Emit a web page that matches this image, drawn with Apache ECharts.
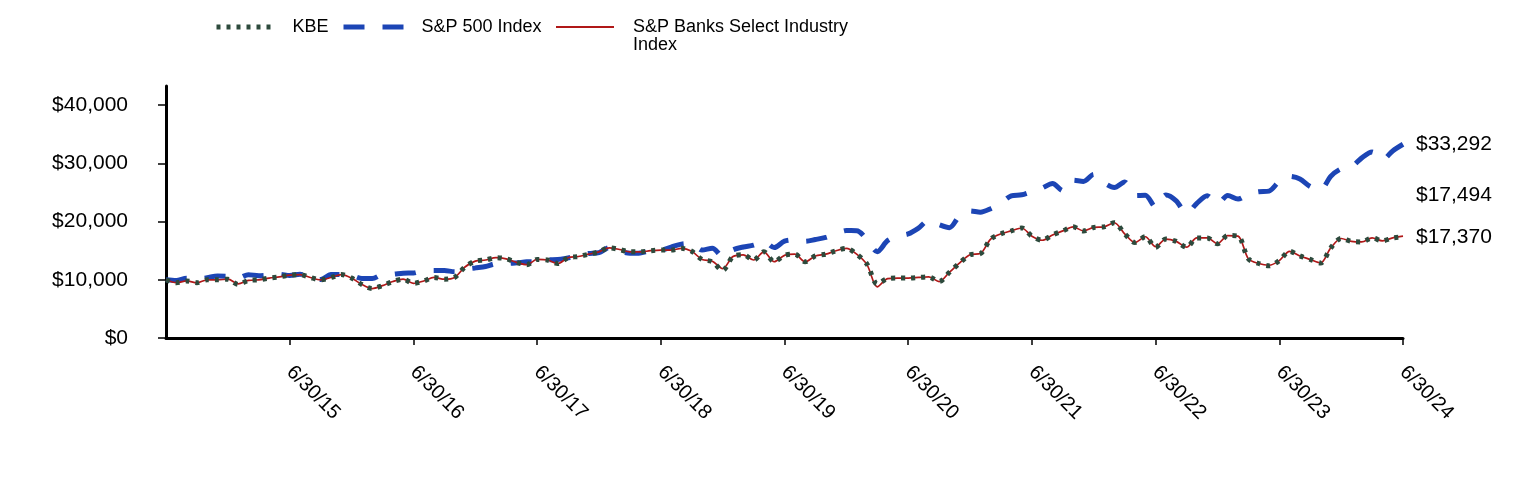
<!DOCTYPE html>
<html>
<head>
<meta charset="utf-8">
<script src="https://cdn.jsdelivr.net/npm/echarts@6/dist/echarts.min.js"></script>
<style>html,body{margin:0;padding:0;background:#fff}#c{width:1524px;height:480px}</style>
</head>
<body>
<div id="c"></div>
<script>
const seriesNames = ['KBE', 'S&P 500 Index', 'S&P Banks Select Industry Index'];
const tickLabels = ['6/30/15','6/30/16','6/30/17','6/30/18','6/30/19','6/30/20','6/30/21','6/30/22','6/30/23','6/30/24'];
const yTicks = [0, 10000, 20000, 30000, 40000];

// monthly values, 6/30/14 .. 6/30/24
const kbe = [10000, 9500, 9800, 9500, 10000, 10000, 10100, 9200, 9900, 10000,
  10300, 10500, 10800, 10900, 10400, 10000, 10400, 10900, 10300, 9200,
  8500, 9000, 9700, 10100, 9400, 9800, 10400, 10100, 10400, 12200,
  13200, 13400, 13800, 13600, 13000, 12600, 13500, 13400, 12800, 13800,
  14000, 14400, 14800, 15500, 15200, 14800, 14800, 15000, 15100, 15100,
  15400, 14900, 13500, 13100, 11600, 14000, 14300, 13400, 14800, 13100,
  14200, 14400, 13100, 14100, 14400, 15000, 15400, 14400, 12700, 9300,
  10200, 10300, 10300, 10400, 10500, 9700, 11300, 12900, 14300, 14500,
  17000, 17900, 18400, 18900, 17500, 16800, 17700, 18400, 19100, 18400,
  19000, 19100, 19800, 17900, 16400, 17400, 15600, 17000, 16600, 15600,
  17200, 17200, 16200, 17600, 17500, 13600, 12800, 12400, 13300, 14900,
  14100, 13500, 12900, 15500, 17100, 16600, 16500, 17200, 16700, 17200,
  17370];
const sp500 = [10000, 9862, 10257, 10113, 10360, 10639, 10612,
  10293, 10885, 10713, 10816, 10955, 10742, 10967, 10306, 10051, 10899, 10931, 10759,
  10225, 10211, 10904, 10946, 11143, 11172, 11584, 11600, 11602, 11391, 11813, 12046,
  12275, 12762, 12777, 12908, 13090, 13172, 13443, 13484, 13762, 14083, 14515, 14676,
  15517, 14945, 14565, 14621, 14973, 15065, 15625, 16134, 16226, 15117, 15425, 14033,
  15157, 15644, 15948, 16594, 15539, 16634, 16873, 16606, 16917, 17284, 17911, 18451,
  18444, 16925, 14835, 16736, 17533, 17882, 18890, 20248, 19478, 18960, 21036, 21845,
  21625, 22221, 23194, 24432, 24603, 25177, 25776, 26559, 25324, 27099, 26911, 28117,
  26662, 25863, 26823, 24484, 24529, 22504, 24579, 23577, 21405, 23138, 24431, 23022,
  24468, 23871, 24747, 25134, 25243, 26910, 27775, 27333, 26030, 25482, 27808, 29072,
  29400, 30950, 31950, 30640, 32150, 33292];
const banksIndex = [10000, 9500, 9800, 9500, 10000, 10000, 10100, 9300, 9900, 10000,
  10300, 10500, 10800, 10900, 10400, 10000, 10400, 10900, 10300, 9200,
  8500, 9000, 9700, 10100, 9400, 9800, 10400, 10100, 10400, 12200,
  13200, 13400, 13800, 13600, 13000, 12600, 13500, 13400, 12800, 13800,
  14000, 14400, 14800, 15500, 15200, 14800, 14800, 15000, 15100, 15100,
  15400, 14900, 13500, 13200, 11900, 14000, 14300, 13400, 14800, 13100,
  14200, 14400, 13100, 14100, 14400, 15000, 15400, 14400, 12600, 8800,
  10200, 10300, 10300, 10400, 10500, 9700, 11300, 12900, 14300, 14500,
  17000, 17900, 18400, 18900, 17500, 16800, 17700, 18400, 19100, 18400,
  19000, 19100, 19800, 17900, 16400, 17400, 15700, 17000, 16600, 15600,
  17200, 17200, 16200, 17600, 17500, 13600, 12800, 12500, 13300, 14900,
  14100, 13500, 12900, 15500, 17100, 16600, 16500, 17200, 16700, 17200,
  17494];

// month-end category labels
const categories = [];
for (let k = 0; k < kbe.length; k++) {
  const m = (5 + k) % 12;
  const y = 2014 + Math.floor((5 + k) / 12);
  const d = new Date(Date.UTC(y, m + 1, 0)).getUTCDate();
  categories.push((m + 1) + '/' + d + '/' + String(y).slice(2));
}

const FONT = 'Arial, "Liberation Sans", sans-serif';
const COL_KBE = '#2d4a3c', COL_SP = '#1c45b5', COL_IDX = '#b01818';
const STYLE_KBE = {color: COL_KBE, width: 5, type: [4, 6]};
const STYLE_SP = {color: COL_SP, width: 5, type: [21, 18]};
const STYLE_IDX = {color: COL_IDX, width: 1.7};
const money = v => '$' + Math.round(v).toLocaleString('en-US');
const showTick = (i, v) => tickLabels.includes(v);

const chart = echarts.init(document.getElementById('c'), null, {renderer: 'canvas'});
const legendBase = {
  top: 18, padding: 0, itemHeight: 14, selectedMode: false,
  itemStyle: {opacity: 0}
};
chart.setOption({
  animation: false,
  textStyle: {fontFamily: FONT},
  grid: {left: 166, right: 121, top: 86, bottom: 142},
  legend: [
    Object.assign({}, legendBase, {data: [seriesNames[0]], left: 214, itemWidth: 54,
      lineStyle: STYLE_KBE,
      textStyle: {fontSize: 18, color: '#000', fontFamily: FONT, padding: [0, 0, 0, 17]}}),
    Object.assign({}, legendBase, {data: [seriesNames[1]], left: 341, itemWidth: 60,
      lineStyle: STYLE_SP,
      textStyle: {fontSize: 18, color: '#000', fontFamily: FONT, padding: [0, 0, 0, 13]}}),
    Object.assign({}, legendBase, {data: [seriesNames[2]], left: 555, top: 18, itemWidth: 58,
      lineStyle: {color: COL_IDX, width: 2},
      formatter: () => '{t|S&P Banks Select Industry}\n{t|Index}',
      textStyle: {fontSize: 18, color: '#000', fontFamily: FONT, padding: [18, 0, 0, 14],
        rich: {t: {fontSize: 18, lineHeight: 18, color: '#000', fontFamily: FONT}}}})
  ],
  xAxis: {
    type: 'category', data: categories, boundaryGap: false,
    axisLine: {lineStyle: {color: '#000', width: 3}},
    axisTick: {interval: showTick, length: 7, lineStyle: {color: '#000', width: 1.5}},
    axisLabel: {interval: showTick, rotate: -45, margin: 31, fontSize: 20, color: '#000', fontFamily: FONT},
    splitLine: {show: false}
  },
  yAxis: {
    type: 'value', min: 0, max: 43300, interval: 10000,
    axisLine: {show: true, lineStyle: {color: '#000', width: 3}},
    axisTick: {show: true, length: 8, customValues: yTicks, lineStyle: {color: '#000', width: 1.5}},
    axisLabel: {customValues: yTicks, formatter: money, fontSize: 21, color: '#000', margin: 38, fontFamily: FONT},
    splitLine: {show: false}
  },
  series: [
    {
      name: seriesNames[1], type: 'line', data: sp500, symbol: 'none', smooth: 0.3, z: 2,
      lineStyle: STYLE_SP, itemStyle: {color: COL_SP},
      endLabel: {show: true, formatter: p => money(p.value), fontSize: 21, color: '#000', distance: 13, fontFamily: FONT}
    },
    {
      name: seriesNames[2], type: 'line', data: banksIndex, symbol: 'none', smooth: 0.3, z: 3,
      lineStyle: STYLE_IDX, itemStyle: {color: COL_IDX},
      endLabel: {show: true, formatter: p => money(p.value), fontSize: 21, color: '#000', distance: 13, offset: [0, -41], fontFamily: FONT}
    },
    {
      name: seriesNames[0], type: 'line', data: kbe, symbol: 'none', smooth: 0.3, z: 4,
      lineStyle: STYLE_KBE, itemStyle: {color: COL_KBE},
      endLabel: {show: true, formatter: p => money(p.value), fontSize: 21, color: '#000', distance: 13, fontFamily: FONT}
    }
  ]
});
</script>
</body>
</html>
